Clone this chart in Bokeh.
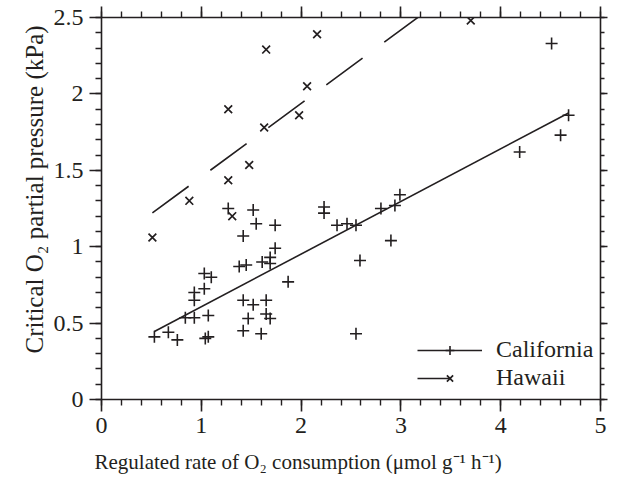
import numpy as np
from bokeh.plotting import figure
from bokeh.models import (LinearAxis, FixedTicker, Range1d, Legend, LegendItem, Title)
from bokeh.embed import file_html
from bokeh.resources import INLINE

# ---- data ----
california_x = [0.53, 0.67, 0.76, 1.04, 1.07, 0.84, 0.93, 1.07, 0.93, 0.93, 1.03, 1.03,
                1.10, 1.38, 1.45, 1.61, 1.69, 1.69, 1.74, 1.42, 1.52, 1.65, 1.65, 1.69,
                1.47, 1.42, 1.60, 1.87, 1.27, 1.52, 1.55, 1.74, 1.42, 2.23, 2.23, 2.36,
                2.46, 2.55, 2.59, 2.55, 2.80, 2.94, 2.99, 2.90, 4.19, 4.51, 4.60, 4.68]
california_y = [0.41, 0.44, 0.39, 0.40, 0.41, 0.535, 0.535, 0.55, 0.65, 0.70, 0.725, 0.825,
                0.80, 0.87, 0.88, 0.90, 0.93, 0.89, 0.99, 0.65, 0.62, 0.65, 0.56, 0.53,
                0.53, 0.45, 0.43, 0.77, 1.25, 1.24, 1.15, 1.14, 1.07, 1.26, 1.22, 1.14,
                1.15, 1.14, 0.91, 0.43, 1.25, 1.27, 1.34, 1.04, 1.62, 2.33, 1.73, 1.86]
hawaii_x = [0.51, 0.88, 1.27, 1.31, 1.27, 1.48, 1.63, 1.65, 1.98, 2.06, 2.16, 3.70]
hawaii_y = [1.06, 1.30, 1.435, 1.20, 1.90, 1.535, 1.78, 2.29, 1.86, 2.05, 2.39, 2.48]

x_ticks = [0, 1, 2, 3, 4, 5]
x_tick_labels = ["0", "1", "2", "3", "4", "5"]
y_ticks = [0, 0.5, 1, 1.5, 2, 2.5]
y_tick_labels = ["0", "0.5", "1", "1.5", "2", "2.5"]
series_names = ["California", "Hawaii"]
x_label = "Regulated rate of O\u2082 consumption (\u03bcmol g\u207b\u00b9 h\u207b\u00b9)"
y_label = "Critical O\u2082 partial pressure (kPa)"

INK = "#231f20"
FONT = "Liberation Serif"

p = figure(frame_width=499, frame_height=382,
           x_range=Range1d(0, 5), y_range=Range1d(0, 2.5),
           x_axis_type=None, y_axis_type=None,
           output_backend="svg", toolbar_location=None,
           min_border_left=101, min_border_top=17, min_border_right=12,
           min_border_bottom=80)
p.outline_line_color = None
p.xgrid.visible = False
p.ygrid.visible = False

x_minor = [round(v, 2) for v in np.arange(0, 5.0001, 0.2)]
y_minor = [round(v, 2) for v in np.arange(0, 2.5001, 0.1)]


def make_axis(ticks, minor, labels, show_labels, out_major, out_minor):
    ax = LinearAxis(ticker=FixedTicker(ticks=ticks, minor_ticks=minor))
    ax.axis_line_color = INK
    ax.axis_line_width = 1.6
    ax.major_tick_line_color = INK
    ax.major_tick_line_width = 1.6
    ax.minor_tick_line_color = INK
    ax.minor_tick_line_width = 1.4
    ax.major_tick_in = 0
    ax.minor_tick_in = 0
    ax.major_tick_out = out_major
    ax.minor_tick_out = out_minor
    if show_labels:
        ax.major_label_overrides = {t: l for t, l in zip(ticks, labels)}
        ax.major_label_text_font = FONT
        ax.major_label_text_font_size = "24px"
        ax.major_label_text_color = INK
        ax.major_label_standoff = 6
    else:
        ax.major_label_overrides = {t: "" for t in ticks}
        ax.major_label_text_font_size = "0px"
        ax.major_label_standoff = 0
    return ax


p.add_layout(make_axis(x_ticks, x_minor, x_tick_labels, True, 12, 6), "below")
p.add_layout(make_axis(y_ticks, y_minor, y_tick_labels, True, 12, 6), "left")
p.add_layout(make_axis(x_ticks, x_minor, x_tick_labels, False, 11, 6), "above")
p.add_layout(make_axis(y_ticks, y_minor, y_tick_labels, False, 7, 4), "right")

# regression lines (least squares)
cx = np.array(california_x); cy = np.array(california_y)
hx = np.array(hawaii_x); hy = np.array(hawaii_y)
cs, ci = np.polyfit(cx, cy, 1)
hs, hi = np.polyfit(hx, hy, 1)
c_line_x = [cx.min(), cx.max()]
h_line_x = [hx.min(), hx.max()]

c_line = p.line(c_line_x, [ci + cs * v for v in c_line_x], line_color=INK, line_width=1.6)
h_line = p.line(h_line_x, [hi + hs * v for v in h_line_x], line_color=INK, line_width=1.6,
                line_dash="45 27")
c_pts = p.scatter(california_x, california_y, marker="cross", size=12,
                  line_color=INK, line_width=1.6)
h_pts = p.scatter(hawaii_x, hawaii_y, marker="x", size=11,
                  line_color=INK, line_width=1.7)
# legend-only line for Hawaii (no visible data)
h_leg = p.line([np.nan, np.nan], [np.nan, np.nan], line_color=INK, line_width=1.6,
               line_dash="33 60")

legend = Legend(items=[LegendItem(label=series_names[0], renderers=[c_line, c_pts]),
                       LegendItem(label=series_names[1], renderers=[h_leg, h_pts])],
                location=(316, 8))
legend.border_line_color = None
legend.background_fill_alpha = 0
legend.padding = 0
legend.margin = 0
legend.spacing = 1
legend.glyph_width = 65
legend.glyph_height = 22
legend.label_height = 22
legend.label_standoff = 14
legend.label_text_font = FONT
legend.label_text_font_size = "24px"
legend.label_text_color = INK
p.add_layout(legend, "center")

xt = Title(text=x_label, align="left", offset=-7, text_font=FONT, text_font_size="21px",
           text_color=INK, text_font_style="normal", standoff=24)
p.add_layout(xt, "below")
yt = Title(text=y_label, align="left", offset=46, text_font=FONT, text_font_size="25px",
           text_color=INK, text_font_style="normal", standoff=6)
p.add_layout(yt, "left")

open("out.html", "w").write(file_html(p, INLINE))
